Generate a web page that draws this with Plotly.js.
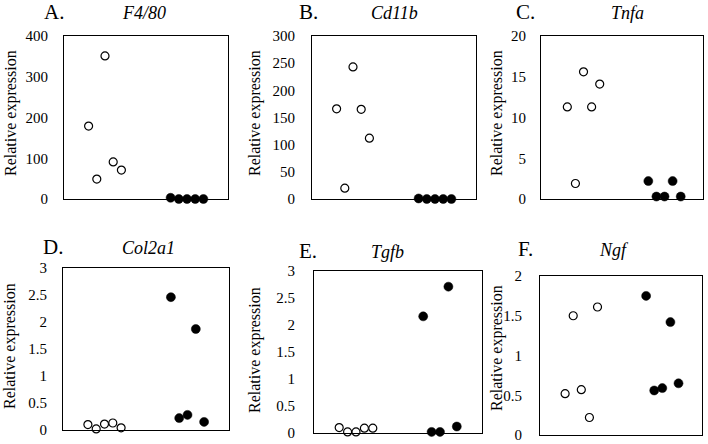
<!DOCTYPE html>
<html>
<head>
<meta charset="utf-8">
<script src="https://cdn.plot.ly/plotly-3.0.1.min.js"></script>
<style>
html,body{margin:0;padding:0;background:#fff;}
#chart{width:708px;height:444px;}
#chart svg text, #chart svg tspan { font-family: "Liberation Serif", "Times New Roman", "DejaVu Serif", serif !important; }
</style>
</head>
<body>
<div id="chart"></div>
<script>
// ---- data ----
const genes = ['F4/80', 'Cd11b', 'Tnfa', 'Col2a1', 'Tgfb', 'Ngf'];
const letters = ['A.', 'B.', 'C.', 'D.', 'E.', 'F.'];
const yTitle = 'Relative expression';

const f480Open = [179, 49, 351, 91, 71];
const f480Filled = [3, 0, 0, 0, 0];
const cd11bOpen = [166, 20, 243, 165, 112];
const cd11bFilled = [1, 0, 0, 0, 0];
const tnfaOpen = [11.3, 1.9, 15.6, 11.3, 14.1];
const tnfaFilled = [2.2, 0.3, 0.3, 2.2, 0.3];
const col2a1Open = [0.10, 0.02, 0.11, 0.13, 0.04];
const col2a1Filled = [2.46, 0.22, 0.28, 1.87, 0.15];
const tgfbOpen = [0.10, 0.02, 0.02, 0.09, 0.09];
const tgfbFilled = [2.16, 0.02, 0.02, 2.71, 0.12];
const ngfOpen = [0.52, 1.50, 0.57, 0.22, 1.61];
const ngfFilled = [1.75, 0.56, 0.59, 1.42, 0.65];

const openSets = [f480Open, cd11bOpen, tnfaOpen, col2a1Open, tgfbOpen, ngfOpen];
const filledSets = [f480Filled, cd11bFilled, tnfaFilled, col2a1Filled, tgfbFilled, ngfFilled];
const yMax = [400, 300, 20, 3, 3, 2];
const yStep = [100, 50, 5, 0.5, 0.5, 0.5];

// ---- layout geometry (pixels in the 708x444 picture) ----
const W = 708, H = 444;
const boxes = [ // [left, right, top, bottom]
  [64, 228, 36, 199],
  [312, 476, 36, 199],
  [541, 703, 36, 199],
  [63, 229, 268, 430],
  [314, 482, 271, 433],
  [540, 702, 276, 435]
];
const xRanges = [[0, 4], [0, 4], [-0.05, 3.95], [0, 4], [0, 4], [-0.02, 3.98]];
const letterPos = [[54, 12], [308, 12], [525, 12], [53, 247], [308, 251], [525, 249]];
const genePos = [[144, 13], [394, 13], [627, 13], [148, 248], [388, 252], [614, 250]];
const titlePos = [[11, 113], [255, 113], [497, 113], [10, 346], [255, 350], [497, 348]];
const tickGap = [12, 13, 11, 12, 15, 14];

const serif = 'Liberation Serif';
const traces = [];
const layout = {
  width: W, height: H,
  margin: {l: 0, r: 0, t: 0, b: 0},
  paper_bgcolor: '#fff', plot_bgcolor: '#fff',
  showlegend: false,
  font: {family: serif, color: '#000'},
  annotations: []
};

const jitter = i => (i - 2) * 0.2;

for (let k = 0; k < 6; k++) {
  const n = k + 1;
  const xa = 'x' + (n === 1 ? '' : n), ya = 'y' + (n === 1 ? '' : n);
  const b = boxes[k];
  traces.push({
    type: 'scatter', mode: 'markers', xaxis: xa, yaxis: ya, cliponaxis: false,
    x: openSets[k].map((v, i) => 1 + jitter(i)), y: openSets[k],
    marker: {symbol: 'circle', size: 8, color: '#fff', line: {color: '#000', width: 1.2}},
    hoverinfo: 'skip'
  });
  traces.push({
    type: 'scatter', mode: 'markers', xaxis: xa, yaxis: ya, cliponaxis: false,
    x: filledSets[k].map((v, i) => 3 + jitter(i)), y: filledSets[k],
    marker: {symbol: 'circle', size: 9, color: '#000', line: {color: '#000', width: 0.5}},
    hoverinfo: 'skip'
  });
  const xk = 'xaxis' + (n === 1 ? '' : n), yk = 'yaxis' + (n === 1 ? '' : n);
  layout[xk] = {
    domain: [b[0] / W, b[1] / W], range: xRanges[k], anchor: ya,
    showticklabels: false, ticks: '', showgrid: false, zeroline: false,
    showline: true, mirror: true, linecolor: '#000', linewidth: 1, fixedrange: true
  };
  layout[yk] = {
    domain: [1 - b[3] / H, 1 - b[2] / H], range: [0, yMax[k]], anchor: xa,
    dtick: yStep[k], tick0: 0, ticks: 'outside', ticklen: tickGap[k], tickcolor: 'rgba(0,0,0,0)',
    tickfont: {family: serif, size: 15, color: '#000'}, ticklabeloverflow: 'allow',
    showgrid: false, zeroline: false,
    showline: true, mirror: true, linecolor: '#000', linewidth: 1, fixedrange: true
  };
  layout.annotations.push({
    text: letters[k], xref: 'paper', yref: 'paper', showarrow: false,
    x: letterPos[k][0] / W, y: 1 - letterPos[k][1] / H, xanchor: 'center', yanchor: 'middle',
    font: {family: serif, size: 21, color: '#000'}
  });
  layout.annotations.push({
    text: '<i>' + genes[k] + '</i>', xref: 'paper', yref: 'paper', showarrow: false,
    x: genePos[k][0] / W, y: 1 - genePos[k][1] / H, xanchor: 'center', yanchor: 'middle',
    font: {family: serif, size: 18, color: '#000'}
  });
  layout.annotations.push({
    text: yTitle, xref: 'paper', yref: 'paper', showarrow: false, textangle: -90,
    x: titlePos[k][0] / W, y: 1 - titlePos[k][1] / H, xanchor: 'center', yanchor: 'middle',
    font: {family: serif, size: 16, color: '#000'}
  });
}

Plotly.newPlot('chart', traces, layout, {staticPlot: true, displayModeBar: false});
</script>
</body>
</html>
